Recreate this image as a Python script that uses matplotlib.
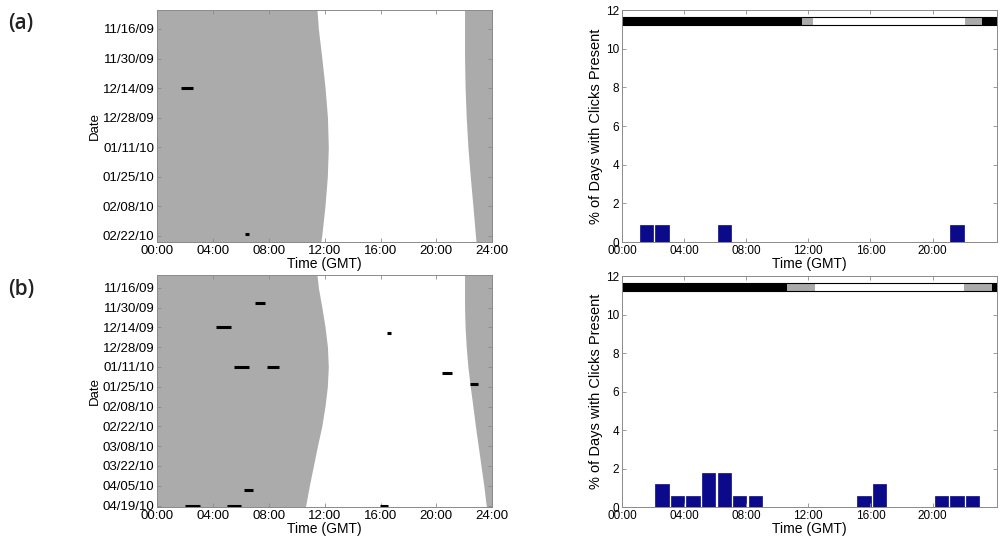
import datetime as dt
import matplotlib
matplotlib.use("Agg")
import matplotlib.pyplot as plt
import matplotlib.dates as mdates

plt.rcParams['font.family'] = ['Liberation Sans', 'DejaVu Sans']

# Sunrise / sunset (GMT hours) at the site
sun_dates = ['2009-11-07', '2009-11-16', '2009-11-30', '2009-12-14',
             '2009-12-28', '2010-01-11', '2010-01-25', '2010-02-08',
             '2010-02-22', '2010-03-08', '2010-03-22', '2010-04-05',
             '2010-04-19', '2010-04-21']
sunrise = [11.45, 11.55, 11.80, 12.03, 12.20, 12.26, 12.19, 12.02,
           11.79, 11.48, 11.19, 10.90, 10.64, 10.60]
sunset = [22.02, 22.02, 22.02, 22.06, 22.14, 22.26, 22.43, 22.62,
          22.80, 23.00, 23.20, 23.40, 23.57, 23.62]

# Click encounters: date, start hour, end hour
clicks_a_dates = ['2009-12-14', '2010-02-21']
clicks_a_start = [1.70, 6.30]
clicks_a_end = [2.60, 6.55]

clicks_b_dates = ['2009-11-27', '2009-12-14', '2009-12-18', '2010-01-11',
                  '2010-01-11', '2010-01-15', '2010-01-23', '2010-04-08',
                  '2010-04-19', '2010-04-19', '2010-04-19']
clicks_b_start = [7.0, 4.25, 16.45, 5.5, 7.85, 20.4, 22.4, 6.25, 2.0, 5.0,
                  15.95]
clicks_b_end = [7.75, 5.3, 16.75, 6.6, 8.75, 21.1, 22.95, 6.9, 3.1, 6.0,
                16.55]

# Hourly histogram (% of days with clicks present)
hist_a_hours = [1, 2, 6, 21]
hist_a_pct = [0.88, 0.88, 0.88, 0.88]
hist_b_hours = [2, 3, 4, 5, 6, 7, 8, 15, 16, 20, 21, 22]
hist_b_pct = [1.18, 0.59, 0.59, 1.76, 1.76, 0.59, 0.59, 0.59, 1.18, 0.59,
              0.59, 0.59]

# Light regime bars across the top of the histograms: (start, end, colour)
light_a = [(0, 11.6, 'black'), (11.6, 12.3, '#aaaaaa'), (12.3, 22.1, 'white'),
           (22.1, 23.2, '#aaaaaa'), (23.2, 24.15, 'black')]
light_b = [(0, 10.6, 'black'), (10.6, 12.4, '#aaaaaa'), (12.4, 22.05, 'white'),
           (22.05, 23.8, '#aaaaaa'), (23.8, 24.15, 'black')]

date_ticks_a = ['2009-11-16', '2009-11-30', '2009-12-14', '2009-12-28',
                '2010-01-11', '2010-01-25', '2010-02-08', '2010-02-22']
date_ticks_b = date_ticks_a + ['2010-03-08', '2010-03-22', '2010-04-05',
                               '2010-04-19']
hour_ticks = [0, 4, 8, 12, 16, 20, 24]

NIGHT = '#ababab'
BARCOL = '#0b0a8a'
SPINE = '#8a8a8a'


def todate(s):
    return mdates.date2num(dt.datetime.strptime(s, '%Y-%m-%d'))


def style_axes(ax, labelsize):
    for sp in ax.spines.values():
        sp.set_color(SPINE)
        sp.set_linewidth(0.7)
    ax.tick_params(direction='in', length=3, width=0.6, color=SPINE,
                   top=True, right=True, labelsize=labelsize, pad=2)


def hour_fmt(x, pos=None):
    return '%02d:00' % int(round(x))


def draw_diel(ax, start, end, cdates, cstart, cend, ticks):
    y = [todate(d) for d in sun_dates]
    ax.set_facecolor('white')
    ax.fill_betweenx(y, 0, sunrise, color=NIGHT, lw=0)
    ax.fill_betweenx(y, sunset, 24, color=NIGHT, lw=0)
    ax.hlines([todate(d) for d in cdates], cstart, cend, color='black',
              lw=2.2)
    ax.set_xlim(0, 24)
    ax.set_ylim(todate(end), todate(start))
    ax.set_xticks(hour_ticks)
    ax.xaxis.set_major_formatter(plt.FuncFormatter(hour_fmt))
    ax.set_yticks([todate(d) for d in ticks])
    ax.yaxis.set_major_formatter(mdates.DateFormatter('%m/%d/%y'))
    ax.set_xlabel('Time (GMT)', fontsize=10, labelpad=0)
    ax.set_ylabel('Date', fontsize=9.5, labelpad=1)
    style_axes(ax, 9.5)


def draw_hist(ax, hours, pct, light):
    ax.bar([h + 0.58 for h in hours], pct, width=0.86, color=BARCOL,
           edgecolor=BARCOL, lw=0.5)
    for s, e, c in light:
        ax.broken_barh([(s, e - s)], (11.2, 0.45), facecolors=c, lw=0)
    ax.broken_barh([(0, 24.15)], (11.2, 0.45), facecolors='none',
                   edgecolors='black', lw=0.8)
    ax.set_xlim(0, 24.15)
    ax.set_ylim(0, 12)
    ax.set_xticks(hour_ticks[:-1])
    ax.xaxis.set_major_formatter(plt.FuncFormatter(hour_fmt))
    ax.set_yticks(range(0, 13, 2))
    ax.set_xlabel('Time (GMT)', fontsize=10, labelpad=0)
    ax.set_ylabel('% of Days with Clicks Present', fontsize=10.5, labelpad=2)
    style_axes(ax, 8.5)


fig = plt.figure(figsize=(10.01, 5.44), dpi=100)
ax1 = fig.add_axes([0.157, 0.5551, 0.3347, 0.4265])
ax2 = fig.add_axes([0.6214, 0.5551, 0.3746, 0.4265])
ax3 = fig.add_axes([0.157, 0.068, 0.3347, 0.4265])
ax4 = fig.add_axes([0.6214, 0.068, 0.3746, 0.4245])

draw_diel(ax1, '2009-11-07', '2010-02-25', clicks_a_dates, clicks_a_start,
          clicks_a_end, date_ticks_a)
draw_hist(ax2, hist_a_hours, hist_a_pct, light_a)
draw_diel(ax3, '2009-11-07', '2010-04-20', clicks_b_dates, clicks_b_start,
          clicks_b_end, date_ticks_b)
draw_hist(ax4, hist_b_hours, hist_b_pct, light_b)

fig.text(0.008, 0.957, '(a)', fontsize=15, family='Open Sans',
         fontweight='semibold', va='center', color='#222222')
fig.text(0.008, 0.467, '(b)', fontsize=15, family='Open Sans',
         fontweight='semibold', va='center', color='#222222')

fig.savefig('out.png', dpi=100)
